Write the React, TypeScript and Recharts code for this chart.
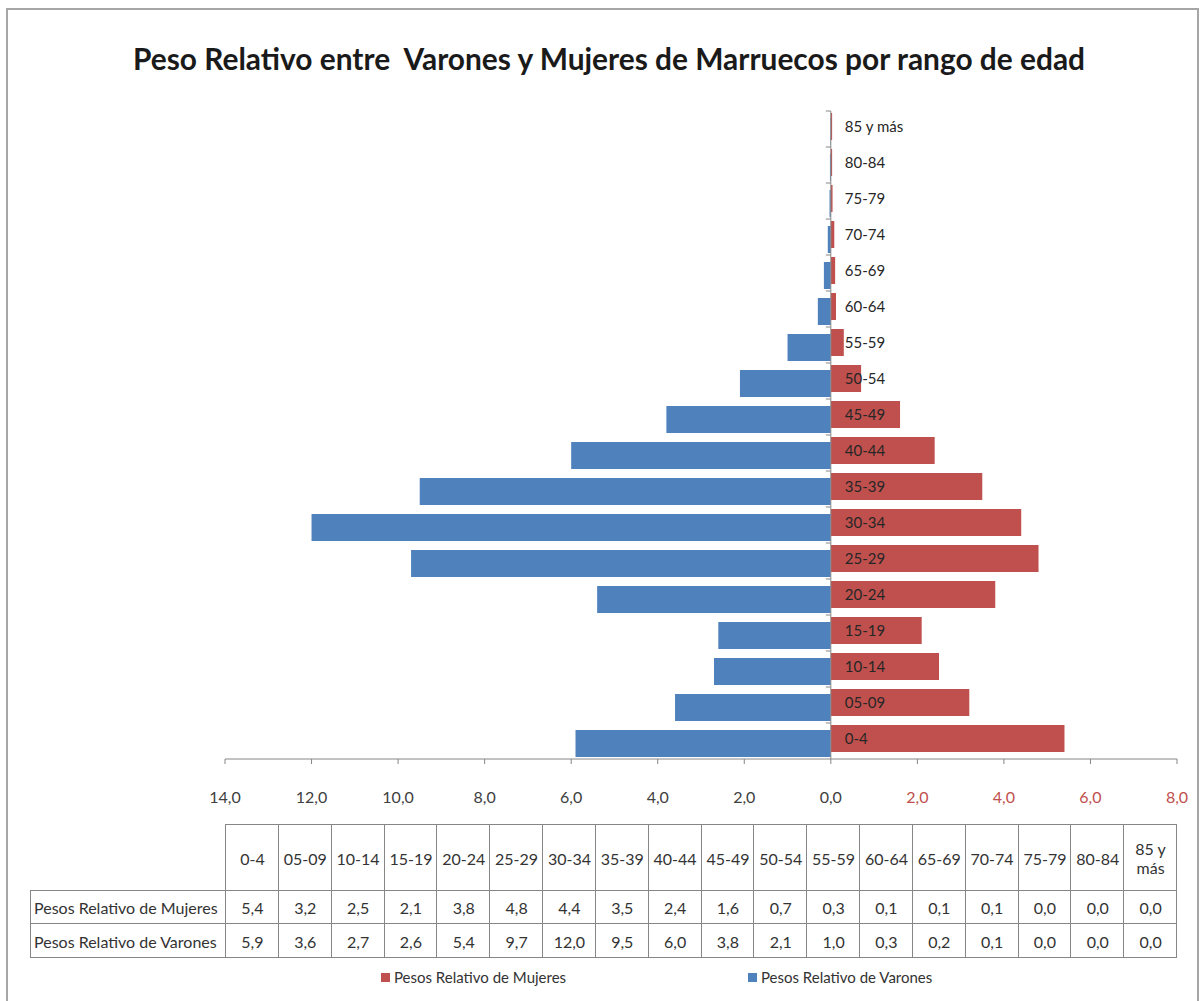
import React from "react";
import { BarChart, Bar, XAxis, YAxis, ReferenceLine, LabelList } from "recharts";

const ages = [
  "0-4", "05-09", "10-14", "15-19", "20-24", "25-29", "30-34", "35-39", "40-44",
  "45-49", "50-54", "55-59", "60-64", "65-69", "70-74", "75-79", "80-84", "85 y más",
];
// pesos relativos (%)
const mujeres = [5.4, 3.2, 2.5, 2.1, 3.8, 4.8, 4.4, 3.5, 2.4, 1.6, 0.7, 0.3, 0.12, 0.1, 0.08, 0.04, 0.03, 0.03];
const varones = [5.9, 3.6, 2.7, 2.6, 5.4, 9.7, 12.0, 9.5, 6.0, 3.8, 2.1, 1.0, 0.3, 0.16, 0.07, 0.03, 0.02, 0.01];
const xTicks = [-14, -12, -10, -8, -6, -4, -2, 0, 2, 4, 6, 8];

const RED = "#c0504d";
const BLUE = "#4f81bd";
const GRID = "#868686";
const TEXT = "#333333";
const FONT = "Lato, 'Open Sans', sans-serif";

const fmt = (v: number) => Math.abs(v).toFixed(1).replace(".", ",");

const chartData = ages.map((age, i) => ({
  age,
  mujeres: mujeres[i],
  varones: -varones[i],
}));

const XTick = (props: any) => {
  const { x, y, payload } = props;
  const v = payload.value as number;
  return (
    <text x={x} y={y} dy="0.35em" textAnchor="middle" fontSize={16} fontFamily={FONT} fill={v > 0 ? RED : "#404040"}>
      {fmt(v)}
    </text>
  );
};

const AgeLabel = (props: any) => {
  const vb = props.viewBox || props;
  const x = vb.x ?? props.x;
  const y = vb.y ?? props.y;
  const h = vb.height ?? props.height;
  return (
    <g>
      <line x1={x - 5} x2={x} y1={y - 2} y2={y - 2} stroke={GRID} />
      <text x={x + 14} y={y + h / 2} dy="0.35em" fontSize={15} fontFamily={FONT} fill="#262626">
        {props.value}
      </text>
    </g>
  );
};

const COL_W = 951 / ages.length;
const TABLE_L = 225;
const LABEL_L = 30;
const ROW_TOPS = [824, 890, 923];
const ROW_H = [66, 33, 34];

const cell = (left: number, top: number, width: number, height: number, extra?: React.CSSProperties): React.CSSProperties => ({
  position: "absolute",
  left,
  top,
  width,
  height,
  boxSizing: "border-box",
  borderLeft: `1px solid ${GRID}`,
  borderTop: `1px solid ${GRID}`,
  display: "flex",
  alignItems: "center",
  justifyContent: "center",
  textAlign: "center",
  fontSize: 16,
  lineHeight: "19px",
  color: TEXT,
  ...extra,
});

function DataTable() {
  const rows = [
    { name: "Pesos Relativo de Mujeres", values: mujeres },
    { name: "Pesos Relativo de Varones", values: varones },
  ];
  return (
    <div>
      {ages.map((a, i) => (
        <div key={a} style={cell(TABLE_L + i * COL_W, ROW_TOPS[0], COL_W + 1, ROW_H[0] + 1)}>
          {a === "85 y más" ? (
            <span>85 y<br />más</span>
          ) : (
            a
          )}
        </div>
      ))}
      {rows.map((r, ri) => (
        <React.Fragment key={r.name}>
          <div style={cell(LABEL_L, ROW_TOPS[ri + 1], TABLE_L - LABEL_L + 1, ROW_H[ri + 1] + 1, { justifyContent: "flex-start", paddingLeft: 3, whiteSpace: "nowrap" })}>
            {r.name}
          </div>
          {r.values.map((v, i) => (
            <div key={i} style={cell(TABLE_L + i * COL_W, ROW_TOPS[ri + 1], COL_W + 1, ROW_H[ri + 1] + 1)}>
              {fmt(v)}
            </div>
          ))}
        </React.Fragment>
      ))}
      {/* right and bottom edges */}
      <div style={{ position: "absolute", left: TABLE_L + 951, top: ROW_TOPS[0], width: 1, height: 957 - ROW_TOPS[0], background: GRID }} />
      <div style={{ position: "absolute", left: LABEL_L, top: 957, width: TABLE_L + 951 - LABEL_L + 1, height: 1, background: GRID }} />
    </div>
  );
}

function Legend() {
  const item = (color: string, label: string, left: number) => (
    <div style={{ position: "absolute", left, top: 968, display: "flex", alignItems: "center", fontSize: 15, color: TEXT, whiteSpace: "nowrap" }}>
      <span style={{ width: 9, height: 9, background: color, marginRight: 4, display: "inline-block" }} />
      {label}
    </div>
  );
  return (
    <>
      {item(RED, "Pesos Relativo de Mujeres", 381)}
      {item(BLUE, "Pesos Relativo de Varones", 748)}
    </>
  );
}

export default function App() {
  return (
    <div style={{ position: "absolute", left: 0, top: 0, width: 1200, height: 1001, overflow: "hidden", background: "#fff", fontFamily: FONT }}>
      <div style={{ position: "absolute", left: 6, top: 8, width: 1193, height: 1100, border: "2px solid #a6a6a6", boxSizing: "border-box" }} />
      <svg width={1200} height={100} style={{ position: "absolute", left: 0, top: 0 }}>
        <text
          x={609}
          y={70}
          textAnchor="middle"
          fontSize={30}
          fontWeight={700}
          fontFamily={FONT}
          fill="#1a1a1a"
          textLength={952}
          lengthAdjust="spacingAndGlyphs"
          style={{ whiteSpace: "pre" }}
        >
          Peso Relativo entre  Varones y Mujeres de Marruecos por rango de edad
        </text>
      </svg>
      <div style={{ position: "absolute", left: 0, top: 0 }}>
        <BarChart
          width={1200}
          height={1001}
          data={chartData}
          layout="vertical"
          margin={{ top: 111, right: 23, bottom: 182, left: 225 }}
          barSize={27}
          barGap={-22}
          barCategoryGap={0}
        >
          <XAxis
            type="number"
            domain={[-14, 8]}
            ticks={xTicks}
            height={60}
            stroke={GRID}
            tickSize={5}
            tickMargin={33}
            tick={<XTick />}
            interval={0}
          />
          <YAxis type="category" dataKey="age" hide reversed />
          <ReferenceLine x={0} stroke={GRID} />
          <Bar dataKey="mujeres" fill={RED} isAnimationActive={false}>
            <LabelList dataKey="age" content={<AgeLabel />} />
          </Bar>
          <Bar dataKey="varones" fill={BLUE} isAnimationActive={false} />
        </BarChart>
      </div>
      <DataTable />
      <Legend />
    </div>
  );
}
